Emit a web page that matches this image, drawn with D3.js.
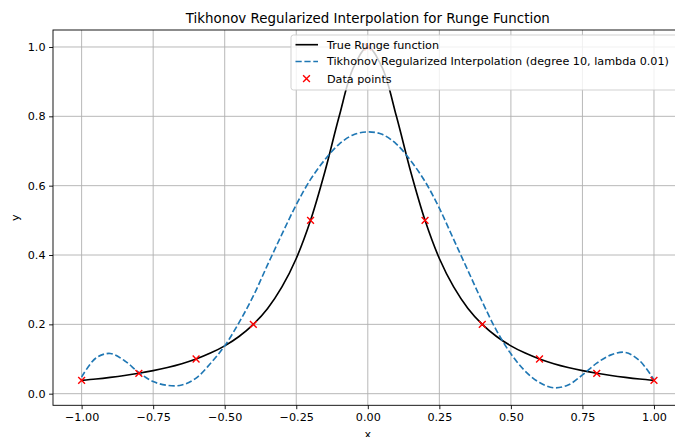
<!DOCTYPE html>
<html>
<head>
<meta charset="utf-8">
<script src="https://cdn.jsdelivr.net/npm/d3@7"></script>
<style>
  html, body { margin: 0; padding: 0; background: #fff; }
  svg { display: block; font-family: "DejaVu Sans", sans-serif; }
</style>
</head>
<body>
<svg id="chart" width="675" height="437"></svg>
<script>
// ---- data ----
const curveX = [-1.00,-0.95,-0.90,-0.85,-0.80,-0.75,-0.70,-0.65,-0.60,-0.55,-0.50,-0.45,-0.40,-0.35,-0.30,-0.25,-0.20,-0.15,-0.10,-0.05,0.00,
                 0.05,0.10,0.15,0.20,0.25,0.30,0.35,0.40,0.45,0.50,0.55,0.60,0.65,0.70,0.75,0.80,0.85,0.90,0.95,1.00];
const rungeY = [0.0385,0.0424,0.0471,0.0525,0.0588,0.0664,0.0755,0.0865,0.100,0.117,0.138,0.165,0.200,0.246,0.308,0.390,0.500,0.640,0.800,0.941,1.000,
                 0.941,0.800,0.640,0.500,0.390,0.308,0.246,0.200,0.165,0.138,0.117,0.100,0.0865,0.0755,0.0664,0.0588,0.0525,0.0471,0.0424,0.0385];
const tikhonovY = [0.048,0.103,0.116,0.095,0.061,0.035,0.024,0.025,0.045,0.087,0.138,0.205,0.282,0.372,0.460,0.545,0.618,0.675,0.720,0.747,0.755,
                    0.748,0.720,0.672,0.612,0.535,0.445,0.355,0.265,0.182,0.115,0.065,0.032,0.017,0.025,0.054,0.088,0.112,0.119,0.095,0.040];
const dataX = [-1.0,-0.8,-0.6,-0.4,-0.2,0.0,0.2,0.4,0.6,0.8,1.0];
const dataY = [0.0385,0.0588,0.100,0.200,0.500,1.000,0.500,0.200,0.100,0.0588,0.0385];
const xTicks = [-1.00,-0.75,-0.50,-0.25,0.00,0.25,0.50,0.75,1.00];
const yTicks = [0.0,0.2,0.4,0.6,0.8,1.0];
const seriesNames = ["True Runge function", "Tikhonov Regularized Interpolation (degree 10, lambda 0.01)", "Data points"];
const titleText = "Tikhonov Regularized Interpolation for Runge Function";

// ---- layout ----
const svg = d3.select("#chart");
const L = 53, R = 682.6, T = 30, B = 405.3;
const x = d3.scaleLinear().domain([-1.1, 1.1]).range([L, R]);
const y = d3.scaleLinear().domain([-0.0335, 1.049]).range([B, T]);
const fs = 11.2;
const lw = 1.65;
const dash = "6.2,2.7";

svg.append("defs").append("clipPath").attr("id", "clip")
  .append("rect").attr("x", L).attr("y", T).attr("width", R - L).attr("height", B - T);

// grid
const grid = svg.append("g");
grid.selectAll(".gx").data(xTicks).join("line")
  .attr("x1", d => x(d)).attr("x2", d => x(d)).attr("y1", T).attr("y2", B)
  .attr("stroke", "#b0b0b0").attr("stroke-width", 0.9);
grid.selectAll(".gy").data(yTicks).join("line")
  .attr("x1", L).attr("x2", R).attr("y1", d => y(d)).attr("y2", d => y(d))
  .attr("stroke", "#b0b0b0").attr("stroke-width", 0.9);

// axes
const xAxis = d3.axisBottom(x).tickValues(xTicks).tickSize(3.9).tickPadding(3.6);
const yAxis = d3.axisLeft(y).tickValues(yTicks).tickFormat(d3.format(".1f")).tickSize(3.9).tickPadding(3.6);
const gx = svg.append("g").attr("transform", `translate(0,${B})`).call(xAxis);
const gy = svg.append("g").attr("transform", `translate(${L},0)`).call(yAxis);
[gx, gy].forEach(g => {
  g.select(".domain").remove();
  g.selectAll(".tick line").attr("stroke", "#000").attr("stroke-width", 0.9);
  g.selectAll(".tick text").attr("fill", "#000").style("font-size", fs + "px")
    .style("font-family", "DejaVu Sans");
});
gx.selectAll(".tick text").text(d => d3.format(".2f")(d).replace("-", "\u2212"));

// curves
const plot = svg.append("g").attr("clip-path", "url(#clip)");
const line = d3.line().x(d => x(d[0])).y(d => y(d[1])).curve(d3.curveCatmullRom.alpha(0.5));
plot.append("path").datum(curveX.map((v, i) => [v, rungeY[i]]))
  .attr("d", line).attr("fill", "none").attr("stroke", "#000").attr("stroke-width", lw);
plot.append("path").datum(curveX.map((v, i) => [v, tikhonovY[i]]))
  .attr("d", line).attr("fill", "none").attr("stroke", "#1f77b4").attr("stroke-width", lw)
  .attr("stroke-dasharray", dash);

// markers
const ms = 3.4;
plot.selectAll(".mk").data(dataX.map((v, i) => [v, dataY[i]])).join("path")
  .attr("d", d => {
    const cx = x(d[0]), cy = y(d[1]);
    return `M${cx - ms},${cy - ms}L${cx + ms},${cy + ms}M${cx - ms},${cy + ms}L${cx + ms},${cy - ms}`;
  })
  .attr("stroke", "#ff0000").attr("stroke-width", 1.4).attr("fill", "none");

// spines
svg.append("rect").attr("x", L).attr("y", T).attr("width", R - L).attr("height", B - T)
  .attr("fill", "none").attr("stroke", "#000").attr("stroke-width", 0.9);

// title & labels
svg.append("text").attr("x", (L + R) / 2).attr("y", 23.3).attr("text-anchor", "middle")
  .style("font-size", "13.4px").attr("fill", "#000").text(titleText);
svg.append("text").attr("x", (L + R) / 2).attr("y", 437.5).attr("text-anchor", "middle")
  .style("font-size", fs + "px").attr("fill", "#000").text("x");
svg.append("text").attr("transform", `translate(19,${(T + B) / 2}) rotate(-90)`).attr("text-anchor", "middle")
  .style("font-size", fs + "px").attr("fill", "#000").text("y");

// legend
const lg = svg.append("g");
lg.append("rect").attr("x", 291).attr("y", 35).attr("width", 390).attr("height", 55).attr("rx", 2.5)
  .attr("fill", "#fff").attr("fill-opacity", 0.8).attr("stroke", "#cccccc").attr("stroke-width", 0.9);
const rows = [44.7, 61.5, 78.7];
lg.append("line").attr("x1", 295.5).attr("x2", 318).attr("y1", rows[0]).attr("y2", rows[0])
  .attr("stroke", "#000").attr("stroke-width", lw);
lg.append("line").attr("x1", 295.5).attr("x2", 318).attr("y1", rows[1]).attr("y2", rows[1])
  .attr("stroke", "#1f77b4").attr("stroke-width", lw).attr("stroke-dasharray", dash);
lg.append("path").attr("d", `M${306.5 - ms},${rows[2] - ms}L${306.5 + ms},${rows[2] + ms}M${306.5 - ms},${rows[2] + ms}L${306.5 + ms},${rows[2] - ms}`)
  .attr("stroke", "#ff0000").attr("stroke-width", 1.4);
lg.selectAll(".lt").data(seriesNames).join("text")
  .attr("x", 327).attr("y", (d, i) => rows[i]).attr("dy", "0.35em")
  .style("font-size", fs + "px").attr("fill", "#000").text(d => d);
</script>
</body>
</html>
